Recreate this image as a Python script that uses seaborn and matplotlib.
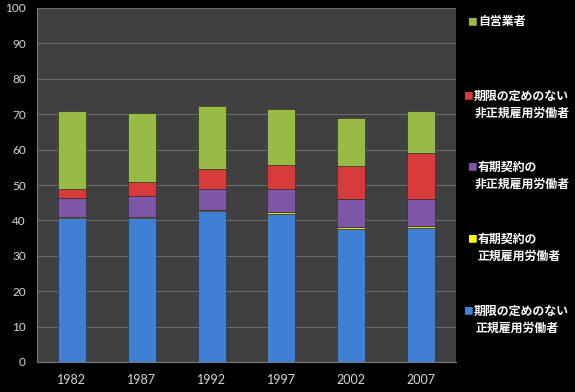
import matplotlib
matplotlib.use('Agg')
import matplotlib.pyplot as plt
import numpy as np
import pandas as pd
import seaborn as sns

# --- data (percent of workers), bottom to top ---
years = ['1982', '1987', '1992', '1997', '2002', '2007']
seishain_muki = [40.7, 40.7, 42.7, 41.9, 37.7, 37.9]   # 期限の定めのない 正規雇用労働者
seiki_yuki = [0.3, 0.3, 0.3, 0.4, 0.3, 0.4]           # 有期契約の 正規雇用労働者
hiseiki_yuki = [5.4, 6.0, 5.9, 6.5, 8.0, 7.7]         # 有期契約の 非正規雇用労働者
hiseiki_muki = [2.6, 3.9, 5.6, 6.9, 9.3, 12.9]        # 期限の定めのない 非正規雇用労働者
jieigyo = [21.8, 19.5, 17.9, 15.8, 13.6, 11.9]        # 自営業者

series = [
    ('期限の定めのない\n正規雇用労働者', seishain_muki, '#3f80d4'),
    ('有期契約の\n正規雇用労働者', seiki_yuki, '#d6d820'),
    ('有期契約の\n非正規雇用労働者', hiseiki_yuki, '#7d56a6'),
    ('期限の定めのない\n非正規雇用労働者', hiseiki_muki, '#d63b3b'),
    ('自営業者', jieigyo, '#98bb45'),
]

df = pd.DataFrame({'year': years})

sns.set_style('dark')
plt.rcParams['font.family'] = ['Lato', 'Noto Sans CJK JP', 'DejaVu Sans']

fig = plt.figure(figsize=(5.75, 3.92), dpi=100, facecolor='black')
ax = fig.add_axes([37 / 575, 30 / 392, 419 / 575, 354 / 392])
ax.set_facecolor('#404040')

bottom = np.zeros(len(years))
for label, vals, color in series:
    df['v'] = vals
    sns.barplot(data=df, x='year', y='v', color=color, width=0.4,
                bottom=bottom, saturation=1, edgecolor='#2a2a2a',
                linewidth=0.4, ax=ax)
    bottom = bottom + np.array(vals)

ax.set_ylim(0, 100)
ax.set_xlim(-0.5, 5.5)
ax.set_yticks(range(0, 101, 10))
ax.grid(axis='y', color='#6b6b6b', linewidth=0.8)
ax.grid(axis='x', visible=False)
ax.set_axisbelow(True)
ax.set_xlabel('')
ax.set_ylabel('')
for s in ['top', 'right']:
    ax.spines[s].set_visible(False)
for s in ['left', 'bottom']:
    ax.spines[s].set_color('#7a7a7a')
    ax.spines[s].set_linewidth(0.8)

ax.set_xticks(np.arange(-0.5, 6, 1), minor=True)
ax.tick_params(axis='x', which='major', length=0, colors='#d8d8d8',
               labelsize=9, pad=9)
ax.tick_params(axis='x', which='minor', length=4, color='#7a7a7a')
ax.tick_params(axis='y', length=3, color='#7a7a7a', labelcolor='#d8d8d8',
               labelsize=8.5, pad=5)

# legend, placed by hand like the original
entries = [
    ('#98bb45', 467, 22, [('自営業者', 478)]),
    ('#d63b3b', 463, 96, [('期限の定めのない', 474), ('非正規雇用労働者', 475)]),
    ('#7d56a6', 467, 167, [('有期契約の', 478), ('非正規雇用労働者', 475)]),
    ('#ffff00', 467, 239, [('有期契約の', 478), ('正規雇用労働者', 478)]),
    ('#3f80d4', 463, 311, [('期限の定めのない', 474), ('正規雇用労働者', 475)]),
]
for color, mx, my, lines in entries:
    fig.text(mx / 575, 1 - my / 392, '■', color=color, fontsize=7,
             va='center', ha='left', family=['Noto Sans CJK JP'])
    for i, (line, tx) in enumerate(lines):
        fig.text(tx / 575, 1 - (my + i * 17) / 392, line, color='white',
                 fontsize=8.6, fontweight='bold', va='center', ha='left',
                 family=['Noto Sans CJK JP', 'DejaVu Sans'])

fig.savefig('out.png', dpi=100, facecolor='black')
